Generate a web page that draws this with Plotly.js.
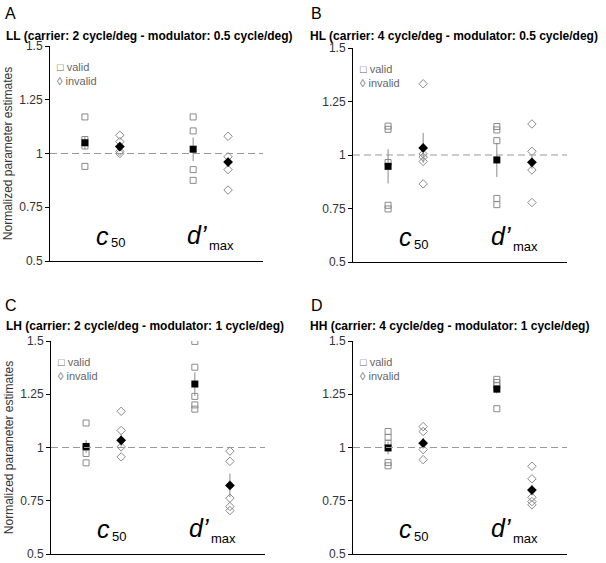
<!DOCTYPE html>
<html>
<head>
<meta charset="utf-8">
<script src="https://cdn.plot.ly/plotly-3.0.1.min.js"></script>
<style>html,body{margin:0;padding:0;background:#fff;}#chart{width:606px;height:563px;}</style>
</head>
<body>
<div id="chart"></div>
<script>
// ---- categories / labels ----
const paramNames = ['c50', 'dmax'];
const tickVals = [0.5, 0.75, 1, 1.25, 1.5];
const tickText = ['0.5', '0.75', '1', '1.25', '1.5'];
const panelLetters = ['A', 'B', 'C', 'D'];
const panelTitles = [
  'LL (carrier: 2 cycle/deg - modulator: 0.5 cycle/deg)',
  'HL (carrier: 4 cycle/deg - modulator: 0.5 cycle/deg)',
  'LH (carrier: 2 cycle/deg - modulator: 1 cycle/deg)',
  'HH (carrier: 4 cycle/deg - modulator: 1 cycle/deg)'
];
const legendLabels = ['valid', 'invalid'];

// ---- data: individual observers ----
const LL_valid_c50    = [1.17, 1.065, 1.035, 0.94];
const LL_invalid_c50  = [1.085, 1.055, 1.01, 1.0];
const LL_valid_dmax   = [1.17, 1.105, 0.925, 0.875];
const LL_invalid_dmax = [1.08, 0.985, 0.925, 0.83];
const LL_mean_valid   = [1.05, 1.02];
const LL_err_valid    = [0.03, 0.055];
const LL_mean_invalid = [1.032, 0.96];
const LL_err_invalid  = [0.02, 0.02];

const HL_valid_c50    = [1.135, 1.12, 0.965, 0.765, 0.748];
const HL_invalid_c50  = [1.333, 1.005, 0.99, 0.97, 0.865];
const HL_valid_dmax   = [1.133, 1.117, 1.067, 0.797, 0.768];
const HL_invalid_dmax = [1.145, 1.017, 0.93, 0.778];
const HL_mean_valid   = [0.947, 0.977];
const HL_err_valid    = [0.08, 0.08];
const HL_mean_invalid = [1.033, 0.966];
const HL_err_invalid  = [0.07, 0.03];

const LH_valid_c50    = [1.115, 1.0, 0.972, 0.928];
const LH_invalid_c50  = [1.17, 1.08, 1.003, 0.956];
const LH_valid_dmax   = [1.498, 1.377, 1.24, 1.2, 1.18];
const LH_invalid_dmax = [0.983, 0.935, 0.762, 0.723, 0.704];
const LH_mean_valid   = [1.005, 1.298];
const LH_err_valid    = [0.03, 0.055];
const LH_mean_invalid = [1.034, 0.822];
const LH_err_invalid  = [0.03, 0.055];

const HH_valid_c50    = [1.075, 1.048, 1.02, 0.93, 0.914];
const HH_invalid_c50  = [1.098, 1.075, 0.99, 0.943];
const HH_valid_dmax   = [1.32, 1.305, 1.29, 1.182];
const HH_invalid_dmax = [0.912, 0.853, 0.766, 0.746, 0.731];
const HH_mean_valid   = [0.998, 1.274];
const HH_err_valid    = [0.03, 0.02];
const HH_mean_invalid = [1.02, 0.80];
const HH_err_invalid  = [0.025, 0.025];

const panels = [
  {vc: LL_valid_c50, ic: LL_invalid_c50, vd: LL_valid_dmax, id: LL_invalid_dmax, mv: LL_mean_valid, ev: LL_err_valid, mi: LL_mean_invalid, ei: LL_err_invalid},
  {vc: HL_valid_c50, ic: HL_invalid_c50, vd: HL_valid_dmax, id: HL_invalid_dmax, mv: HL_mean_valid, ev: HL_err_valid, mi: HL_mean_invalid, ei: HL_err_invalid},
  {vc: LH_valid_c50, ic: LH_invalid_c50, vd: LH_valid_dmax, id: LH_invalid_dmax, mv: LH_mean_valid, ev: LH_err_valid, mi: LH_mean_invalid, ei: LH_err_invalid},
  {vc: HH_valid_c50, ic: HH_invalid_c50, vd: HH_valid_dmax, id: HH_invalid_dmax, mv: HH_mean_valid, ev: HH_err_valid, mi: HH_mean_invalid, ei: HH_err_invalid}
];

// ---- layout geometry (pixels) ----
const W = 606, H = 563;
const boxes = [
  {x0: 50, x1: 263, yTop: 46, yBot: 261},
  {x0: 353, x1: 567, yTop: 48, yBot: 262},
  {x0: 51, x1: 265, yTop: 341, yBot: 554},
  {x0: 353, x1: 567, yTop: 341, yBot: 554}
];
const posValid = {c50: 1, dmax: 4.1};
const posInvalid = {c50: 2, dmax: 5.1};
const xRange = [0, 6.1];

const gray = '#8a8a8a';
const font = 'Liberation Sans, Arial, Helvetica, sans-serif';
const traces = [];
const layout = {
  width: W, height: H,
  margin: {l: 0, r: 0, t: 0, b: 0},
  paper_bgcolor: '#fff', plot_bgcolor: '#fff',
  font: {family: font, size: 12, color: '#333'},
  showlegend: false,
  annotations: [], shapes: []
};

panels.forEach((p, i) => {
  const n = i + 1;
  const xa = n === 1 ? 'x' : 'x' + n;
  const ya = n === 1 ? 'y' : 'y' + n;
  const b = boxes[i];
  const dom = {
    x: [b.x0 / W, b.x1 / W],
    y: [(H - b.yBot) / H, (H - b.yTop) / H]
  };
  layout[n === 1 ? 'xaxis' : 'xaxis' + n] = {
    domain: dom.x, anchor: ya, range: xRange,
    showline: true, linecolor: '#000', linewidth: 1,
    showticklabels: false, ticks: '', showgrid: false, zeroline: false, fixedrange: true
  };
  const yax = {
    domain: dom.y, anchor: xa, range: [0.5, 1.5],
    tickvals: tickVals, ticktext: tickText,
    ticks: 'outside', ticklen: 4, tickcolor: '#000', tickwidth: 1,
    tickfont: {size: 12, color: '#333'},
    showline: true, linecolor: '#000', linewidth: 1,
    showgrid: false, zeroline: false, fixedrange: true
  };
  if (n === 1 || n === 3) {
    yax.title = {text: 'Normalized parameter estimates', font: {size: 12, color: '#333'}, standoff: 4};
  }
  layout[n === 1 ? 'yaxis' : 'yaxis' + n] = yax;

  const mkOpen = (vals, pos, sym, name) => ({
    type: 'scatter', mode: 'markers', xaxis: xa, yaxis: ya,
    x: vals.map(() => pos), y: vals, name: name,
    marker: {symbol: sym, size: sym === 'square-open' ? 6 : 6.5, color: gray, line: {width: 1, color: gray}},
    hoverinfo: 'y'
  });
  traces.push(mkOpen(p.vc, posValid.c50, 'square-open', legendLabels[0]));
  traces.push(mkOpen(p.vd, posValid.dmax, 'square-open', legendLabels[0]));
  traces.push(mkOpen(p.ic, posInvalid.c50, 'diamond-open', legendLabels[1]));
  traces.push(mkOpen(p.id, posInvalid.dmax, 'diamond-open', legendLabels[1]));

  traces.push({
    type: 'scatter', mode: 'markers', xaxis: xa, yaxis: ya, name: legendLabels[0] + ' mean',
    x: paramNames.map(k => posValid[k]), y: p.mv,
    error_y: {type: 'data', array: p.ev, visible: true, color: gray, thickness: 1, width: 0},
    marker: {symbol: 'square', size: 7, color: '#000'}
  });
  traces.push({
    type: 'scatter', mode: 'markers', xaxis: xa, yaxis: ya, name: legendLabels[1] + ' mean',
    x: paramNames.map(k => posInvalid[k]), y: p.mi,
    error_y: {type: 'data', array: p.ei, visible: true, color: gray, thickness: 1, width: 0},
    marker: {symbol: 'diamond', size: 7.5, color: '#000'}
  });

  // dashed reference line at 1
  layout.shapes.push({
    type: 'line', xref: xa + ' domain', yref: ya, x0: 0, x1: 1, y0: 1, y1: 1,
    line: {color: '#999', width: 1, dash: '7px,4px'}
  });

  // parameter labels (main symbol + subscript as adjacent texts)
  const cx = (posValid.c50 + posInvalid.c50) / 2;
  const dx = (posValid.dmax + posInvalid.dmax) / 2;
  const big = {size: 25, color: '#000', family: font};
  const small = {size: 13, color: '#000', family: font};
  layout.annotations.push(
    {xref: xa, yref: ya, x: cx + 0.22, y: 0.616, showarrow: false, xanchor: 'right', yanchor: 'middle',
     borderpad: 0, text: '<i>c</i>', font: big},
    {xref: xa, yref: ya, x: cx + 0.22, y: 0.584, showarrow: false, xanchor: 'left', yanchor: 'middle',
     borderpad: 0, text: '50', font: small},
    {xref: xa, yref: ya, x: dx - 0.07, y: 0.62, showarrow: false, xanchor: 'right', yanchor: 'middle',
     borderpad: 0, text: '<i>d’</i>', font: big},
    {xref: xa, yref: ya, x: dx - 0.07, y: 0.572, showarrow: false, xanchor: 'left', yanchor: 'middle',
     borderpad: 0, text: 'max', font: small}
  );

  // legend-like key inside each panel (one text block, two lines)
  layout.annotations.push(
    {xref: 'paper', yref: 'paper', x: (b.x0 + 6) / W, y: (H - (b.yTop + 28)) / H, showarrow: false,
     xanchor: 'left', yanchor: 'middle', align: 'left', borderpad: 0,
     text: '□ ' + legendLabels[0] + '<br>◊ ' + legendLabels[1],
     font: {size: 11, color: '#666', family: font}}
  );

  // panel letter and title
  const letterX = i % 2 === 0 ? 3 : 309;
  const titleX = i % 2 === 0 ? 5 : 309;
  const letterY = i < 2 ? 13.5 : 305;
  const titleY = i < 2 ? 36 : 325.5;
  layout.annotations.push(
    {xref: 'paper', yref: 'paper', x: letterX / W, y: (H - letterY) / H, text: panelLetters[i],
     showarrow: false, xanchor: 'left', yanchor: 'middle', font: {size: 16, color: '#000', family: font}},
    {xref: 'paper', yref: 'paper', x: titleX / W, y: (H - titleY) / H, text: '<b>' + panelTitles[i] + '</b>',
     showarrow: false, xanchor: 'left', yanchor: 'middle', borderpad: 0, font: {size: 12, color: '#000', family: font}}
  );
});

Plotly.newPlot('chart', traces, layout, {staticPlot: true, displayModeBar: false});
</script>
</body>
</html>
